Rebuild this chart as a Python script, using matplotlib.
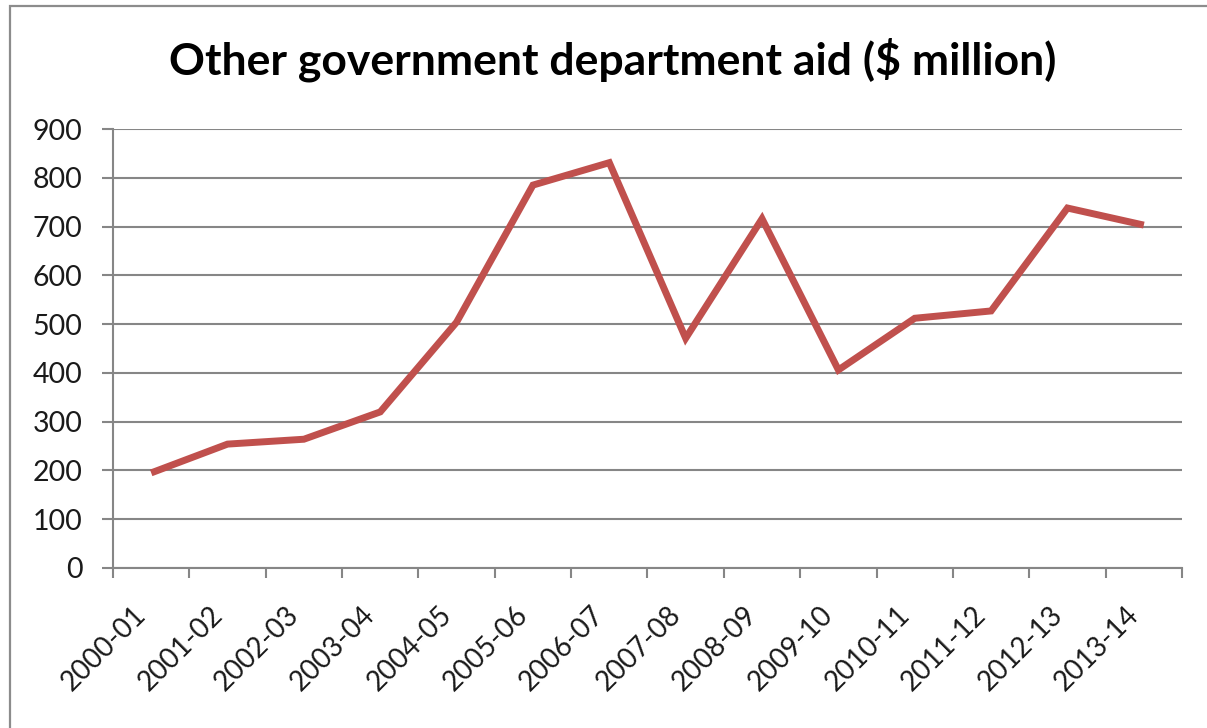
import matplotlib
matplotlib.use("Agg")
import matplotlib.pyplot as plt
from matplotlib.patches import Rectangle

# Aid figures by financial year
years = ["2000-01", "2001-02", "2002-03", "2003-04", "2004-05", "2005-06",
         "2006-07", "2007-08", "2008-09", "2009-10", "2010-11", "2011-12",
         "2012-13", "2013-14"]
aid = [195, 254, 264, 320, 504, 785, 831, 471, 716, 406, 512, 527, 738, 703]
y_ticks = [0, 100, 200, 300, 400, 500, 600, 700, 800, 900]

W, H = 1207, 728
DPI = 100
plt.rcParams["font.family"] = ["Lato", "DejaVu Sans"]

fig = plt.figure(figsize=(W / DPI, H / DPI), dpi=DPI)
fig.patch.set_facecolor("white")

ax = fig.add_axes([113 / W, 1 - 568 / H, (1182 - 113) / W, (568 - 129) / H])

grey = "#868686"
x = [i + 0.5 for i in range(len(years))]
ax.plot(x, aid, color="#C0504D", linewidth=5, solid_joinstyle="miter",
        solid_capstyle="butt", zorder=3)

ax.set_xlim(0, len(years))
ax.set_ylim(0, 900)
ax.set_yticks(y_ticks)
ax.set_yticklabels([str(v) for v in y_ticks])
ax.set_xticks(range(len(years) + 1))
ax.set_xticklabels([])
ax.set_xticks(x, minor=True)
ax.set_xticklabels(years, minor=True, rotation=45, ha="right", va="top")

ax.yaxis.grid(True, color=grey, linewidth=1.5)
ax.set_axisbelow(True)
for side in ("top", "right"):
    ax.spines[side].set_visible(False)
for side in ("left", "bottom"):
    ax.spines[side].set_color(grey)
    ax.spines[side].set_linewidth(1.5)

ax.tick_params(axis="y", which="major", length=8, width=1.5, color=grey,
               labelsize=20.5, pad=14, labelcolor="#1a1a1a")
ax.tick_params(axis="x", which="major", length=7, width=1.5, color=grey,
               direction="out")
ax.tick_params(axis="x", which="minor", length=0, labelsize=20, pad=24,
               labelcolor="#1a1a1a")

fig.text(613 / W, 1 - 75 / H, "Other government department aid ($ million)",
         ha="center", va="baseline", fontsize=32, fontweight="bold",
         color="black")

# chart frame
fig.patches.append(Rectangle((9.5 / W, -0.05), 1.1, 1 - 6 / H + 0.05,
                             transform=fig.transFigure, fill=False,
                             edgecolor="#8c8c8c", linewidth=1.6))

fig.savefig("out.png", dpi=DPI, facecolor="white")
